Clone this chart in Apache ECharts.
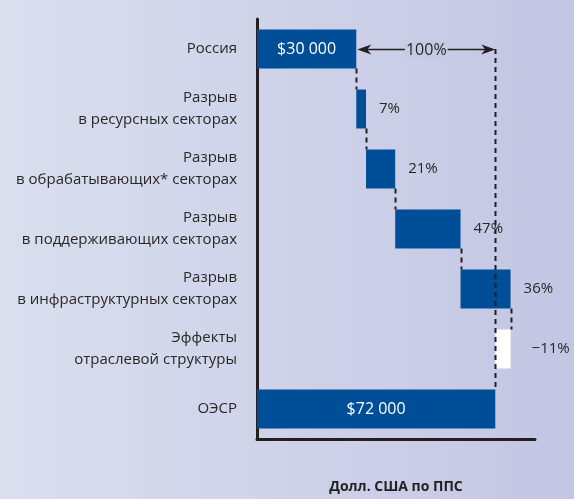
<!DOCTYPE html>
<html>
<head>
<meta charset="utf-8">
<script src="https://cdn.jsdelivr.net/npm/echarts@6/dist/echarts.min.js"></script>
<style>
  html, body { margin: 0; padding: 0; }
  #chart { width: 574px; height: 499px; }
</style>
</head>
<body>
<div id="chart"></div>
<script>
// категории (сверху вниз)
const categories = [
  'Россия',
  'Разрыв\nв ресурсных секторах',
  'Разрыв\nв обрабатывающих* секторах',
  'Разрыв\nв поддерживающих секторах',
  'Разрыв\nв инфраструктурных секторах',
  'Эффекты\nотраслевой структуры',
  'ОЭСР'
];
// долл. США по ППС
const startValue = 30000;
const endValue = 72000;
// доли разрыва, %
const gapShares = [7, 21, 47, 36, -11];
const gapLabel = '100%';

const BLUE = '#004e98';
const INK = '#231f20';
const TEXT = '#2a2627';
const BAR_H = 39;

// строим основу (прозрачную) и видимую часть для каждого столбика
const gap = endValue - startValue;
const baseData = [0];
const barData = [{ value: startValue, label: { show: true, position: 'inside', formatter: '$30 000' } }];
const connectors = []; // [x, строка от, строка до]
let running = startValue;
gapShares.forEach((s, i) => {
  const delta = gap * s / 100;
  const next = running + delta;
  const lo = Math.min(running, next);
  connectors.push([running, i, i + 1]);
  baseData.push(lo);
  barData.push({
    value: Math.abs(delta),
    itemStyle: { color: s < 0 ? '#ffffff' : BLUE },
    label: {
      show: true,
      position: 'right',
      distance: s < 0 ? 21 : 13,
      color: TEXT,
      fontSize: 15,
      formatter: (s < 0 ? '\u2212' + Math.abs(s) : s) + '%'
    }
  });
  running = next;
});
baseData.push(0);
barData.push({ value: endValue, label: { show: true, position: 'inside', formatter: '$72 000' } });

let myChart = echarts.init(document.getElementById('chart'));

// пунктирные соединители
function renderConnector(params, api) {
  const x = api.value(0);
  const p1 = api.coord([x, api.value(1)]);
  const p2 = api.coord([x, api.value(2)]);
  const half = BAR_H / 2;
  return {
    type: 'line',
    shape: { x1: Math.round(p1[0]) + 0.5, y1: p1[1] + half, x2: Math.round(p2[0]) + 0.5, y2: p2[1] - half },
    style: { stroke: INK, lineWidth: 2, lineDash: [5, 4] }
  };
}

// стрелка 100% и длинный пунктир
function renderArrow(params, api) {
  const a = api.coord([startValue, 0]);
  const b = api.coord([endValue, 0]);
  const bottom = api.coord([endValue, categories.length - 1]);
  const y = Math.round(a[1]);
  const xa = a[0] + 1, xb = b[0];
  const L = 14, W = 5, notch = 4;
  const mid = (xa + xb) / 2;
  return {
    type: 'group',
    children: [
      {
        type: 'line',
        shape: { x1: Math.round(xb) + 0.5, y1: y, x2: Math.round(xb) + 0.5, y2: bottom[1] - BAR_H / 2 },
        style: { stroke: INK, lineWidth: 2, lineDash: [5, 4] }
      },
      {
        type: 'line',
        shape: { x1: xa + 6, y1: y + 0.5, x2: xb - 6, y2: y + 0.5 },
        style: { stroke: INK, lineWidth: 1.5 }
      },
      {
        type: 'polygon',
        shape: { points: [[xa, y + 0.5], [xa + L, y + 0.5 - W], [xa + L - notch, y + 0.5], [xa + L, y + 0.5 + W]] },
        style: { fill: INK }
      },
      {
        type: 'polygon',
        shape: { points: [[xb, y + 0.5], [xb - L, y + 0.5 - W], [xb - L + notch, y + 0.5], [xb - L, y + 0.5 + W]] },
        style: { fill: INK }
      },
      {
        type: 'text',
        x: mid, y: y + 1,
        style: {
          text: gapLabel, fill: TEXT, fontSize: 16, fontFamily: 'Open Sans',
          align: 'center', verticalAlign: 'middle',
          backgroundColor: '#c6cae2', padding: [1, 1]
        }
      }
    ]
  };
}

myChart.setOption({
  backgroundColor: {
    type: 'linear', x: 0, y: 0, x2: 1, y2: 0,
    colorStops: [{ offset: 0, color: '#dadfee' }, { offset: 1, color: '#c3c6e3' }]
  },
  textStyle: { fontFamily: 'Open Sans' },
  animation: false,
  grid: { left: 257, right: 39, top: 19, bottom: 56 },
  xAxis: {
    type: 'value',
    min: 0,
    max: 84000,
    axisLine: { show: true, lineStyle: { color: INK, width: 3 } },
    axisTick: { show: false },
    axisLabel: { show: false },
    splitLine: { show: false },
    name: 'Долл. США по ППС',
    nameLocation: 'middle',
    nameGap: 41,
    nameTextStyle: { fontSize: 14, fontWeight: 'bold', color: INK, fontFamily: 'Open Sans' }
  },
  yAxis: {
    type: 'category',
    inverse: true,
    data: categories,
    axisLine: { show: true, lineStyle: { color: INK, width: 3 } },
    axisTick: { show: false },
    axisLabel: { fontSize: 15, color: TEXT, lineHeight: 22, margin: 20, align: 'right' }
  },
  series: [
    {
      type: 'bar',
      stack: 'w',
      data: baseData,
      barWidth: BAR_H,
      itemStyle: { color: 'transparent' },
      silent: true
    },
    {
      type: 'bar',
      stack: 'w',
      data: barData,
      barWidth: BAR_H,
      itemStyle: { color: BLUE },
      label: { color: '#ffffff', fontSize: 16 }
    },
    {
      type: 'custom',
      renderItem: renderConnector,
      data: connectors,
      z: 5
    },
    {
      type: 'custom',
      renderItem: renderArrow,
      data: [[0]],
      z: 6
    }
  ]
});
</script>
</body>
</html>
